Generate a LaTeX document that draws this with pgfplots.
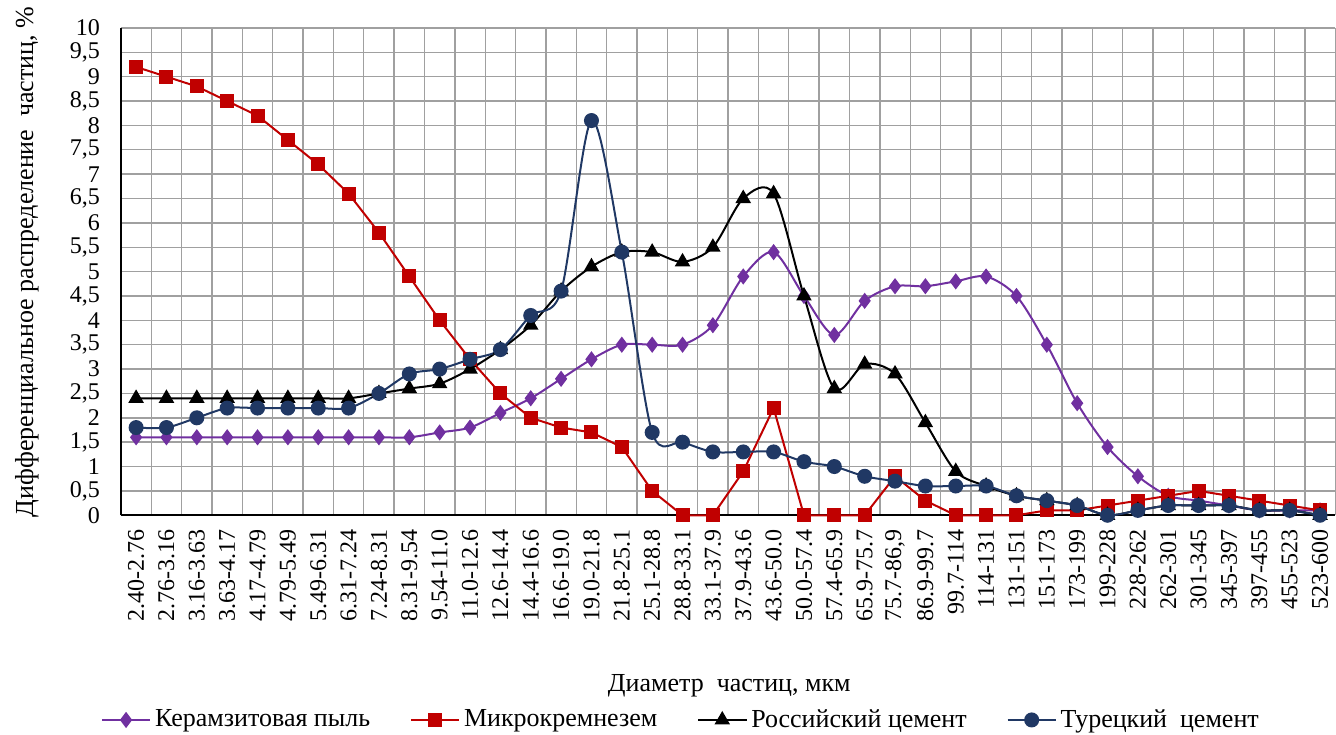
\documentclass[border=0pt]{standalone}
\usepackage{fontspec}
\setmainfont{Liberation Serif}
\usepackage{pgfplots}
\usepackage{pgfplotstable}
\pgfplotsset{compat=1.18}
\definecolor{cpurple}{HTML}{7030A0}
\definecolor{cred}{HTML}{C00000}
\definecolor{cblue}{HTML}{203864}
\definecolor{cgrid}{HTML}{A0A0A0}
\pgfplotstableread{
x kp mk rc tc
0 1.6 9.2 2.4 1.8
1 1.6 9.0 2.4 1.8
2 1.6 8.8 2.4 2.0
3 1.6 8.5 2.4 2.2
4 1.6 8.2 2.4 2.2
5 1.6 7.7 2.4 2.2
6 1.6 7.2 2.4 2.2
7 1.6 6.6 2.4 2.2
8 1.6 5.8 2.5 2.5
9 1.6 4.9 2.6 2.9
10 1.7 4.0 2.7 3.0
11 1.8 3.2 3.0 3.2
12 2.1 2.5 3.4 3.4
13 2.4 2.0 3.9 4.1
14 2.8 1.8 4.6 4.6
15 3.2 1.7 5.1 8.1
16 3.5 1.4 5.4 5.4
17 3.5 0.5 5.4 1.7
18 3.5 0.0 5.2 1.5
19 3.9 0.0 5.5 1.3
20 4.9 0.9 6.5 1.3
21 5.4 2.2 6.6 1.3
22 4.5 0.0 4.5 1.1
23 3.7 0.0 2.6 1.0
24 4.4 0.0 3.1 0.8
25 4.7 0.8 2.9 0.7
26 4.7 0.3 1.9 0.6
27 4.8 0.0 0.9 0.6
28 4.9 0.0 0.6 0.6
29 4.5 0.0 0.4 0.4
30 3.5 0.1 0.3 0.3
31 2.3 0.1 0.2 0.2
32 1.4 0.2 0.0 0.0
33 0.8 0.3 0.1 0.1
34 0.4 0.4 0.2 0.2
35 0.3 0.5 0.2 0.2
36 0.2 0.4 0.2 0.2
37 0.1 0.3 0.1 0.1
38 0.1 0.2 0.1 0.1
39 0.1 0.1 0.0 0.0
}\datatable
\begin{document}
\begin{tikzpicture}
\begin{axis}[
  scale only axis,
  width=607.5pt, height=243.8pt,
  xmin=-0.5, xmax=39.5, ymin=0, ymax=10,
  clip=false,
  axis x line*=bottom, axis y line*=left,
  axis line style={black, line width=0.8pt, -},
  xtick={0,...,39},
  minor xtick={-0.5,0.5,...,39.5},
  ytick={0,0.5,...,10},
  xmajorgrids=false, xminorgrids=true, ymajorgrids=true,
  grid style={cgrid, line width=0.7pt},
  minor grid style={cgrid, line width=0.7pt},
  major tick length=0pt, minor tick length=0pt,
  xticklabels={2.40-2.76,2.76-3.16,3.16-3.63,3.63-4.17,4.17-4.79,4.79-5.49,5.49-6.31,6.31-7.24,7.24-8.31,8.31-9.54,9.54-11.0,11.0-12.6,12.6-14.4,14.4-16.6,16.6-19.0,19.0-21.8,21.8-25.1,25.1-28.8,28.8-33.1,33.1-37.9,37.9-43.6,43.6-50.0,50.0-57.4,57.4-65.9,65.9-75.7,{75.7-86,9},86.9-99.7,99.7-114,114-131,131-151,151-173,173-199,199-228,228-262,262-301,301-345,345-397,397-455,455-523,523-600},
  xticklabel style={rotate=90, anchor=east, font=\fontsize{12}{14}\selectfont},
  xticklabel shift=3.5pt,
  yticklabel style={font=\fontsize{12}{14}\selectfont, xshift=-7pt},
  /pgf/number format/.cd, use comma, 1000 sep={}, assume math mode=true, /pgfplots/.cd,
  ylabel={Дифференциальное распределение~ частиц, \%},
  ylabel style={at={(axis description cs:-0.0774,0.52)}, anchor=center, font=\fontsize{13}{15}\selectfont},
  xlabel={Диаметр~ частиц, мкм},
  xlabel style={at={(axis description cs:0.501,-0.35)}, anchor=center, font=\fontsize{13}{15}\selectfont},
  legend columns=4,
  legend style={at={(axis description cs:0.462,-0.42)}, anchor=center, draw=none, fill=none,
    font=\fontsize{13}{15}\selectfont, column sep=0pt, inner sep=0pt,
    /tikz/every even column/.append style={column sep=18pt}},
  legend image code/.code={\draw[mark repeat=2,mark phase=2] plot coordinates {(0pt,0pt) (12pt,0pt) (24pt,0pt)};},
]
\addplot[cpurple, line width=1pt, smooth, mark=diamond*, mark size=3.25pt, mark options={solid, fill=cpurple, draw=cpurple}] table[x=x,y=kp]{\datatable};
\addlegendentry{Керамзитовая пыль}
\addplot[cred, line width=1pt, mark=square*, mark size=3pt, mark options={solid, fill=cred, draw=cred}] table[x=x,y=mk]{\datatable};
\addlegendentry{Микрокремнезем}
\addplot[black, line width=1pt, smooth, mark=triangle*, mark size=3.5pt, mark options={solid, fill=black, draw=black}] table[x=x,y=rc]{\datatable};
\addlegendentry{Российский цемент}
\addplot[cblue, line width=1pt, smooth, mark=*, mark size=3.25pt, mark options={solid, fill=cblue, draw=cblue}] table[x=x,y=tc]{\datatable};
\addlegendentry{Турецкий~ цемент}
\coordinate (bl) at (rel axis cs:0,0);
\coordinate (tr) at (rel axis cs:1,1);
\end{axis}
\path ([xshift=-60.5pt,yshift=-107.85pt]bl) rectangle ([yshift=12.85pt,xshift=0.4pt]tr);
\end{tikzpicture}
\end{document}
